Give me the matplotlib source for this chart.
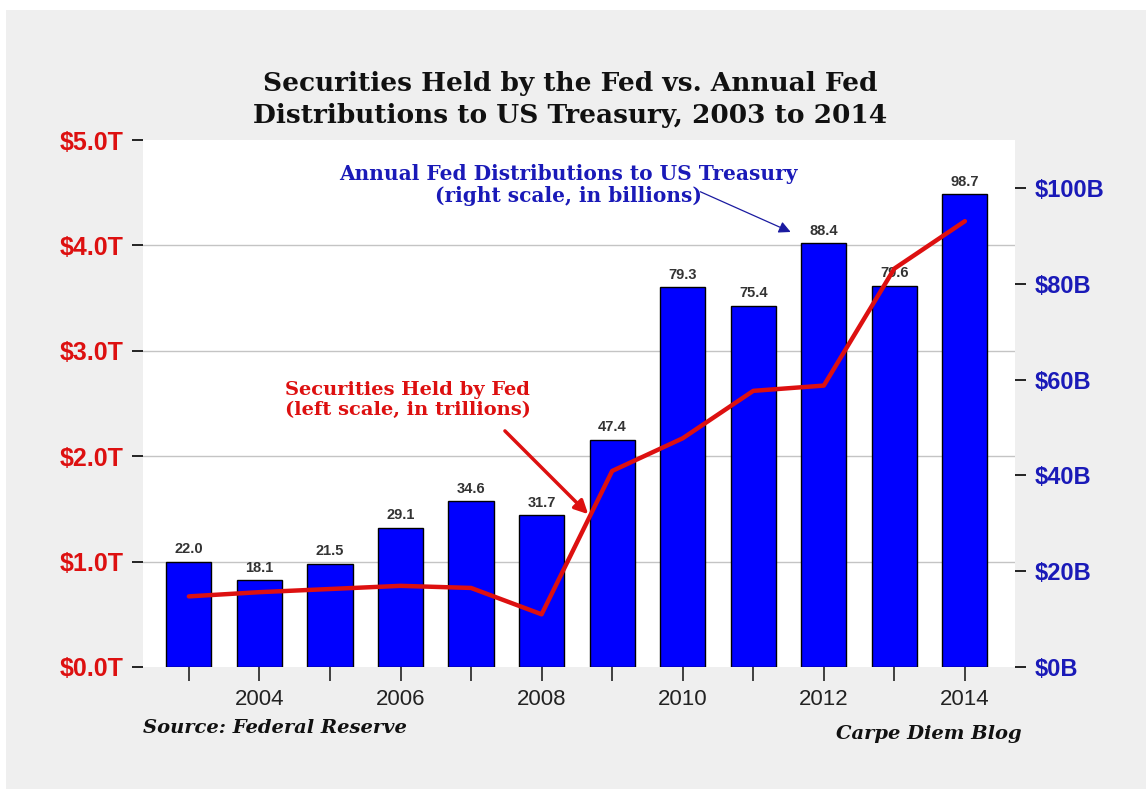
import numpy as np
import pandas as pd
import matplotlib
matplotlib.use('Agg')
import matplotlib.pyplot as plt
from matplotlib.ticker import FixedLocator
from matplotlib.patches import Rectangle

years = [2003, 2004, 2005, 2006, 2007, 2008, 2009, 2010, 2011, 2012, 2013, 2014]
# annual Fed distributions to Treasury, $ billions (right scale)
distributions = [22.0, 18.1, 21.5, 29.1, 34.6, 31.7, 47.4, 79.3, 75.4, 88.4, 79.6, 98.7]
# securities held by Fed, $ trillions (left scale)
securities = [0.67, 0.71, 0.74, 0.77, 0.75, 0.50, 1.86, 2.17, 2.62, 2.67, 3.78, 4.23]

left_ticks = [0, 1, 2, 3, 4, 5]
right_ticks = [0, 20, 40, 60, 80, 100]
xtick_years = [2004, 2006, 2008, 2010, 2012, 2014]

red = '#dd1010'
blue_txt = '#1a1ab8'
bar_blue = '#0000ff'
serif = 'DejaVu Serif'

W, H = 1146, 789
fig = plt.figure(figsize=(W / 100, H / 100), dpi=100, facecolor='white')
fig.patches.append(Rectangle((6 / W, 0), 1, 1 - 10 / H, transform=fig.transFigure,
                             facecolor='#efefef', edgecolor='none', zorder=-10))

ax = fig.add_axes([143 / W, 1 - 667 / H, (1015 - 143) / W, (667 - 140) / H])
ax.set_facecolor('white')
ax2 = ax.twinx()

# bars on the right scale
bars = ax.bar(years, distributions, width=0.64, color=bar_blue, edgecolor='black',
              linewidth=1.0, zorder=3)
ax.bar_label(bars, labels=['%.1f' % v for v in distributions], padding=4,
             fontsize=10.5, fontweight='bold', color='#333333', family='Liberation Sans')
ax.set_ylim(0, 110)
ax.set_xlim(2002.35, 2014.71)
ax.yaxis.tick_right()
ax.set_yticks(right_ticks)
ax.set_yticklabels(['$%dB' % v for v in right_ticks], fontweight='bold',
                   family='Liberation Sans', color=blue_txt, fontsize=17)
ax.tick_params(axis='y', which='major', direction='out', length=8, width=1.2,
               colors='black', labelcolor=blue_txt, pad=6)
# grid at the left-scale steps (1T on the left = 110/5 B on the right)
ax.yaxis.set_minor_locator(FixedLocator([v * 110 / 5 for v in left_ticks[1:-1]]))
ax.tick_params(axis='y', which='minor', length=0)
ax.grid(which='minor', axis='y', color='#c4c4c4', linewidth=1.0, zorder=0)
ax.set_axisbelow(True)

ax.set_xticks(years)
ax.set_xticklabels([str(y) if y in xtick_years else '' for y in years],
                   family='Liberation Sans', fontsize=16)
ax.tick_params(axis='x', direction='out', length=10, width=1.2, colors='#222222', pad=6)
for s in ax.spines.values():
    s.set_visible(False)

# line on the left scale
ax2.plot(years, securities, color=red, linewidth=3.2, zorder=5, solid_capstyle='round')
ax2.set_ylim(0, 5)
ax2.yaxis.tick_left()
ax2.set_yticks(left_ticks)
ax2.set_yticklabels(['$%.1fT' % v for v in left_ticks], fontweight='bold',
                    family='Liberation Sans', color=red, fontsize=18)
ax2.tick_params(axis='y', direction='out', length=8, width=1.2, colors='black',
                labelcolor=red, pad=6)
for s in ax2.spines.values():
    s.set_visible(False)

# annotations
ax2.text(2006.1, 2.53, 'Securities Held by Fed\n(left scale, in trillions)', ha='center',
         va='center', color=red, fontsize=14, fontweight='bold', family=serif,
         linespacing=1.15)
ax2.annotate('', xy=(2008.66, 1.45), xytext=(2007.48, 2.24),
             arrowprops=dict(arrowstyle='-|>,head_length=0.8,head_width=0.4', color=red,
                             lw=2.5, shrinkA=0, shrinkB=0))
ax.text(2008.38, 100.6, 'Annual Fed Distributions to US Treasury\n(right scale, in billions)',
        ha='center', va='center', color=blue_txt, fontsize=14.5, fontweight='bold',
        family=serif, linespacing=1.15)
ax.annotate('', xy=(2011.53, 90.8), xytext=(2010.25, 99.2),
            arrowprops=dict(arrowstyle='-|>,head_length=0.7,head_width=0.35', color='#1a1aa0',
                            lw=0.9, shrinkA=0, shrinkB=0))

fig.text(570 / W, 1 - 99 / H, 'Securities Held by the Fed vs. Annual Fed\nDistributions to US Treasury, 2003 to 2014',
         ha='center', va='center', fontsize=19, fontweight='bold', family=serif,
         color='#111111', linespacing=1.35)
fig.text(143 / W, 1 - 728 / H, 'Source: Federal Reserve', ha='left', va='center',
         fontsize=14, fontweight='bold', style='italic', family=serif, color='#111111')
fig.text(1022 / W, 1 - 734 / H, 'Carpe Diem Blog', ha='right', va='center',
         fontsize=14, fontweight='bold', style='italic', family=serif, color='#111111')

fig.savefig('out.png', dpi=100, facecolor=fig.get_facecolor())
